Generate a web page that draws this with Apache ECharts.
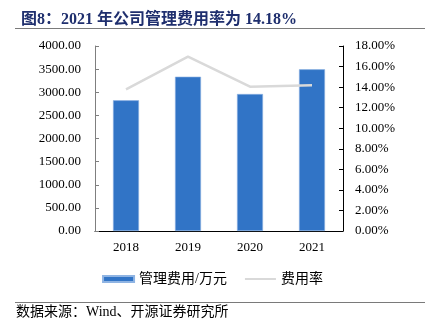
<!DOCTYPE html>
<html><head><meta charset="utf-8">
<script src="https://cdn.jsdelivr.net/npm/echarts@6/dist/echarts.min.js"></script>
<style>html,body{margin:0;padding:0;background:#fff}#c{width:425px;height:332px}</style>
</head><body><div id="c"></div>
<script>
const categories = ['2018', '2019', '2020', '2021'];
const expense = [2826, 3336, 2962, 3496];
const rate = [13.79, 16.96, 14.04, 14.18];
const FONT = '"Liberation Serif", "Noto Sans CJK SC", serif';

const chart = echarts.init(document.getElementById('c'), null, {renderer: 'canvas'});
chart.setOption({
  animation: false,
  backgroundColor: '#fff',
  title: {
    text: '图8：2021 年公司管理费用率为 14.18%',
    left: 16, top: 7,
    textStyle: {fontFamily: FONT, fontSize: 16, fontWeight: 'bold', color: '#1f2f6e'}
  },
  graphic: [
    {type: 'line', shape: {x1: 15, y1: 28.5, x2: 425, y2: 28.5}, style: {stroke: '#7a7a7a', lineWidth: 1}},
    {type: 'line', shape: {x1: 15, y1: 302.5, x2: 425, y2: 302.5}, style: {stroke: '#7a7a7a', lineWidth: 1}},
    {type: 'text', left: 16, top: 305, style: {text: '数据来源：Wind、开源证券研究所', font: '14px ' + FONT, fill: '#000'}}
  ],
  legend: {
    bottom: 41, left: 'center',
    itemGap: 18, itemWidth: 31, itemHeight: 6,
    textStyle: {fontFamily: FONT, fontSize: 14, color: '#000'},
    data: [
      {name: '管理费用/万元', icon: 'rect'},
      {name: '费用率', icon: 'path://M0,0 L31,0 L31,2 L0,2 Z'}
    ]
  },
  grid: {left: 95, right: 82, top: 46, bottom: 101},
  xAxis: {
    type: 'category', data: categories,
    axisLine: {lineStyle: {color: '#000', width: 1}},
    axisTick: {inside: true, length: 4, lineStyle: {color: '#000'}},
    axisLabel: {fontFamily: FONT, fontSize: 13, color: '#000', margin: 10}
  },
  yAxis: [
    {
      type: 'value', min: 0, max: 4000, interval: 500,
      axisLine: {show: true, lineStyle: {color: '#7f7f7f'}},
      axisTick: {show: true, inside: true, length: 4, lineStyle: {color: '#7f7f7f'}},
      splitLine: {show: false},
      axisLabel: {fontFamily: FONT, fontSize: 13, color: '#000', margin: 14,
        formatter: v => v.toFixed(2)}
    },
    {
      type: 'value', min: 0, max: 18, interval: 2,
      axisLine: {show: true, lineStyle: {color: '#000'}},
      axisTick: {show: true, inside: true, length: 4, lineStyle: {color: '#000'}},
      splitLine: {show: false},
      axisLabel: {fontFamily: FONT, fontSize: 13, color: '#000', margin: 12,
        formatter: v => v.toFixed(2) + '%'}
    }
  ],
  series: [
    {
      name: '管理费用/万元', type: 'bar', data: expense, barWidth: 26,
      itemStyle: {color: '#3174c6', borderColor: '#8fb4e3', borderWidth: 0.6}
    },
    {
      name: '费用率', type: 'line', yAxisIndex: 1, data: rate,
      symbol: 'none', lineStyle: {color: '#d9d9d9', width: 2.5},
      itemStyle: {color: '#d9d9d9'}
    }
  ]
});
</script></body></html>
